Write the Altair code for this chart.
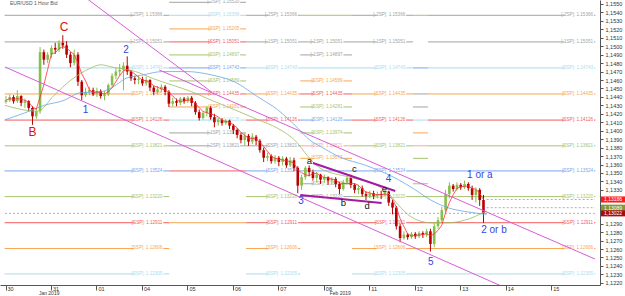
import altair as alt
import pandas as pd

# ---------------- candles (2-hour steps) ----------------
opens = [1.1434,1.1436,1.1440,1.1435,1.1441,1.1433,1.1435,1.1427,1.1417,1.1423,
1.1493,1.1484,1.1490,1.1498,1.1496,1.1504,1.1501,1.1490,1.1480,1.1490,
1.1458,1.1442,1.1446,1.1448,1.1443,1.1447,1.1441,1.1443,1.1454,1.1465,
1.1470,1.1472,1.1477,1.1470,1.1462,1.1460,1.1461,1.1456,1.1460,1.1451,
1.1446,1.1449,1.1452,1.1446,1.1432,1.1435,1.1433,1.1438,1.1435,1.1439,
1.1433,1.1422,1.1415,1.1421,1.1427,1.1416,1.1410,1.1413,1.1409,1.1412,
1.1406,1.1401,1.1395,1.1389,1.1394,1.1387,1.1393,1.1388,1.1377,1.1368,
1.1370,1.1364,1.1368,1.1363,1.1367,1.1359,1.1365,1.1356,1.1335,1.1345,
1.1356,1.1351,1.1344,1.1348,1.1342,1.1345,1.1341,1.1343,1.1337,1.1331,
1.1339,1.1344,1.1336,1.1330,1.1332,1.1325,1.1323,1.1326,1.1323,1.1325,
1.1324,1.1328,1.1315,1.1309,1.1287,1.1273,1.1277,1.1274,1.1278,1.1275,
1.1279,1.1277,1.1281,1.1266,1.1287,1.1294,1.1306,1.1325,1.1335,1.1331,
1.1336,1.1333,1.1337,1.1332,1.1324,1.1330,1.1318]
highs = [1.1441,1.1443,1.1442,1.1448,1.1442,1.1438,1.1436,1.1429,1.1427,1.1499,
1.1496,1.1493,1.1501,1.1504,1.1507,1.1513,1.1506,1.1493,1.1496,1.1493,
1.1460,1.1451,1.1452,1.1451,1.1451,1.1449,1.1447,1.1456,1.1468,1.1474,
1.1479,1.1481,1.1488,1.1472,1.1465,1.1465,1.1464,1.1464,1.1461,1.1453,
1.1453,1.1455,1.1454,1.1448,1.1439,1.1438,1.1440,1.1440,1.1441,1.1441,
1.1435,1.1425,1.1423,1.1429,1.1429,1.1420,1.1415,1.1415,1.1414,1.1413,
1.1408,1.1403,1.1397,1.1397,1.1396,1.1397,1.1395,1.1390,1.1380,1.1374,
1.1372,1.1371,1.1370,1.1370,1.1369,1.1369,1.1368,1.1358,1.1348,1.1358,
1.1359,1.1354,1.1351,1.1349,1.1348,1.1346,1.1345,1.1345,1.1339,1.1342,
1.1346,1.1348,1.1338,1.1336,1.1335,1.1328,1.1329,1.1329,1.1328,1.1329,
1.1330,1.1329,1.1318,1.1311,1.1290,1.1281,1.1279,1.1280,1.1280,1.1281,
1.1281,1.1284,1.1284,1.1292,1.1298,1.1310,1.1330,1.1339,1.1337,1.1339,
1.1338,1.1341,1.1339,1.1335,1.1333,1.1332,1.1324]
lows = [1.1432,1.1434,1.1432,1.1433,1.1429,1.1427,1.1423,1.1407,1.1414,1.1420,
1.1478,1.1480,1.1486,1.1491,1.1493,1.1497,1.1486,1.1475,1.1477,1.1453,
1.1436,1.1440,1.1442,1.1441,1.1440,1.1438,1.1436,1.1441,1.1452,1.1461,
1.1465,1.1448,1.1466,1.1459,1.1455,1.1455,1.1453,1.1453,1.1447,1.1442,
1.1443,1.1446,1.1442,1.1428,1.1429,1.1429,1.1430,1.1432,1.1433,1.1429,
1.1419,1.1412,1.1413,1.1417,1.1413,1.1404,1.1406,1.1406,1.1407,1.1402,
1.1396,1.1391,1.1385,1.1383,1.1382,1.1384,1.1383,1.1374,1.1363,1.1364,
1.1361,1.1361,1.1358,1.1359,1.1356,1.1357,1.1352,1.1326,1.1330,1.1342,
1.1346,1.1341,1.1339,1.1337,1.1338,1.1336,1.1337,1.1333,1.1325,1.1329,
1.1336,1.1332,1.1326,1.1325,1.1322,1.1318,1.1320,1.1319,1.1320,1.1319,
1.1322,1.1311,1.1301,1.1283,1.1268,1.1271,1.1271,1.1272,1.1272,1.1273,
1.1273,1.1274,1.1257,1.1262,1.1284,1.1291,1.1303,1.1320,1.1328,1.1329,
1.1330,1.1331,1.1329,1.1318,1.1315,1.1311,1.1291]
closes = [1.1436,1.1440,1.1435,1.1441,1.1433,1.1435,1.1427,1.1417,1.1423,1.1493,
1.1484,1.1490,1.1498,1.1496,1.1504,1.1501,1.1490,1.1480,1.1490,1.1458,
1.1442,1.1446,1.1448,1.1443,1.1447,1.1441,1.1443,1.1454,1.1465,1.1470,
1.1472,1.1477,1.1470,1.1462,1.1460,1.1461,1.1456,1.1460,1.1451,1.1446,
1.1449,1.1452,1.1446,1.1432,1.1435,1.1433,1.1438,1.1435,1.1439,1.1433,
1.1422,1.1415,1.1421,1.1427,1.1416,1.1410,1.1413,1.1409,1.1412,1.1406,
1.1401,1.1395,1.1389,1.1394,1.1387,1.1393,1.1388,1.1377,1.1368,1.1370,
1.1364,1.1368,1.1363,1.1367,1.1359,1.1365,1.1356,1.1335,1.1345,1.1356,
1.1351,1.1344,1.1348,1.1342,1.1345,1.1341,1.1343,1.1337,1.1331,1.1339,
1.1344,1.1336,1.1330,1.1332,1.1325,1.1323,1.1326,1.1323,1.1325,1.1324,
1.1328,1.1315,1.1309,1.1287,1.1273,1.1277,1.1274,1.1278,1.1275,1.1279,
1.1277,1.1281,1.1266,1.1287,1.1294,1.1306,1.1325,1.1335,1.1331,1.1336,
1.1333,1.1337,1.1332,1.1324,1.1330,1.1318,1.1302]

# ---------------- moving averages ----------------
green_t = [-0.01,0.70,1.07,1.44,1.87,2.09,2.37,2.86,3.23,3.67,4.10,4.53,5.03,5.55,5.98,
           6.41,6.63,6.91,7.56,8.14,8.42,8.64,8.92,9.35,9.72,10.09,10.58]
green_p = [1.1430,1.1423,1.1442,1.1460,1.1474,1.1478,1.1475,1.1470,1.1462,1.1454,1.1446,
           1.1436,1.1425,1.1413,1.1403,1.1386,1.1371,1.1356,1.1345,1.1336,1.1326,1.1312,
           1.1298,1.1291,1.1291,1.1294,1.1305]
blue_t = [-0.01,0.42,0.85,1.29,1.65,2.09,2.37,2.65,3.02,3.45,3.99,4.53,5.03,5.55,5.98,
          6.41,6.69,6.97,7.34,7.92,8.64,9.01,9.35,9.72,10.15,10.58]
blue_p = [1.1413,1.1421,1.1430,1.1436,1.1445,1.1446,1.1452,1.1462,1.1466,1.1470,1.1470,
          1.1466,1.1458,1.1440,1.1425,1.1404,1.1389,1.1380,1.1369,1.1359,1.1342,1.1330,
          1.1318,1.1309,1.1304,1.1301]

# ---------------- pivot levels ----------------
main_levels = [1.15366,1.15051,1.14743,1.14435,1.14126,1.13821,1.13524,1.13220,1.12911,1.12606,1.12305]
half_levels = [1.15520,1.15205,1.14897,1.14589,1.14281,1.13974,1.13673,1.13372,1.13065,1.12758,1.12456]
COLORS = {"gr": "#a3a3a3", "lb": "#a9dcef", "or": "#f7a654", "rd": "#f25c5c",
          "gn": "#a6c36f", "bl": "#7aa6ef", "pk": "#f4a6a6"}
# (start day, end day, label end day or None, [(level, colour, code or None)])
periods = [
    (-0.02, 3.60, 3.45, [("M1","gr","-2SP"),("M2","gr","-1SP"),("M3","lb","SSP"),("M4","or","SSP"),
                         ("M5","rd","SSP"),("M6","gn","SSP"),("M7","bl","SSP"),("M8","gn","SSP"),
                         ("M9","rd","SSP"),("M10","or","SSP"),("M11","lb","SSP")]),
    (3.60, 5.29, 5.14, [("H0","gr","-2SP"),("M1","lb","SSP"),("H1","or","SSP"),("M2","rd","SSP"),
                        ("H2","gn","SSP"),("M3","bl","SSP"),("H3","gn","SSP"),("M4","rd","SSP"),
                        ("H4","or","SSP"),("M5","lb","SSP"),("H5","gr","-1SP"),("M6","gr","-2SP"),
                        ("M7","rd",None),("M9","or",None)]),
    (5.29, 6.48, 6.41, [("M1","gr","-2SP"),("M2","gr","-1SP"),("M3","lb","SSP"),("M4","or","SSP"),
                        ("M5","rd","SSP"),("M6","gr","SSP"),("M7","bl","SSP"),("M8","gn","SSP"),
                        ("M9","rd","SSP"),("M10","or","SSP"),("M11","lb","SSP")]),
    (6.48, 7.62, 7.41, [("M1","gn",None),("M2","gr","-1SP"),("H2","gr","-1SP"),("M3","lb",None),
                        ("H3","or","SSP"),("M4","rd","SSP"),("H4","gn","SSP"),("M5","bl","SSP"),
                        ("H5","gn","SSP"),("M6","pk","SSP"),("H6","or","SSP"),("M7","bl",None),
                        ("H7","gr","SSP"),("M8","gr","SSP"),("M9","rd",None)]),
    (7.62, 8.96, 8.79, [("M1","gr","-2SP"),("M2","gr","-1SP"),("M3","lb","SSP"),("M4","or","SSP"),
                        ("M5","rd","SSP"),("M6","gn","SSP"),("M7","bl","SSP"),("M8","gn","SSP"),
                        ("M9","rd","SSP"),("M10","or","SSP"),("M11","lb","SSP")]),
    (8.96, 9.29, None, [("M1","gn",None),("M3","bl",None),("M4","gr",None),("H4","gr",None),
                        ("M5","lb",None),("H5","or",None),("M6","pk",None),("H6","gn",None),
                        ("M7","bl",None),("H7","gn",None),("M8","gn",None),("M9","rd",None),
                        ("M10","or",None),("M11","lb",None)]),
    (9.29, 12.97, 12.92, [("M1","gr","-2SP"),("M2","gr","-1SP"),("M3","lb","SSP"),("M4","or","SSP"),
                          ("M5","rd","SSP"),("M6","gn","SSP"),("M7","bl","SSP"),("M8","gn","SSP"),
                          ("M9","rd","SSP"),("M10","or","SSP"),("M11","lb","SSP")]),
]

# ---------------- trend lines ----------------
chan_id = ["up1","up1","up2","up2","low","low","ace","ace","bd","bd"]
chan_t = [1.75, 4.53, 3.38, 12.96, -0.01, 11.08, 6.76, 8.57, 6.48, 8.27]
chan_p = [1.15579, 1.14458, 1.14719, 1.12482, 1.14754, 1.12120, 1.13618, 1.13287, 1.13239, 1.13145]

# ---------------- annotations ----------------
ann_text = ["B","C","1","2","3","4","5","a","b","c","d","e","1 or a","2 or b"]
ann_t = [0.595,1.29,1.76,2.65,6.50,8.42,9.35,6.68,7.43,7.67,7.95,8.33,10.43,10.74]
ann_p = [1.13985,1.15228,1.14245,1.14955,1.13168,1.13423,1.12446,1.13640,1.13145,1.13547,
         1.13109,1.13305,1.13476,1.12825]
ann_kind = ["wave","wave","imp","imp","imp","imp","imp","abc","abc","abc","abc","abc","imp","imp"]

day_labels = ["30","31","01","04","05","06","07","08","11","12","13","14","15"]
tag_p = [1.13186, 1.13089, 1.13022]
tag_fill = ["#ff1a1a", "#7f9a2e", "#a50d0d"]
# axis labels hidden behind the price tags in the picture
hidden_ticks = [1.1300, 1.1310, 1.1320]

# ======================= build =======================
FONT = "Liberation Sans"
xs = alt.Scale(domain=[-0.011, 12.962], nice=False, zero=False)
ys = alt.Scale(domain=[1.12174, 1.15547], nice=False, zero=False)

yvals = [round(1.122 + i * 0.001, 4) for i in range(34)]
yvals = [v for v in yvals if v not in hidden_ticks]

xaxis = alt.Axis(values=list(range(13)),
                 labelExpr="['" + "','".join(day_labels) + "'][datum.value]",
                 labelAlign="left", labelOffset=1.5, labelPadding=-4, tickSize=5,
                 labelFontSize=5.5, labelFont=FONT, labelColor="#333", domainColor="#555",
                 tickColor="#555", grid=False, title=None, labelBaseline="top")
yaxis = alt.Axis(orient="right", values=yvals,
                 labelExpr="replace(format(datum.value,'.4f'),'.',',')",
                 tickSize=3, labelFontSize=5.5, labelFont=FONT, labelColor="#333",
                 labelPadding=2, domainColor="#555", tickColor="#555", grid=False, title=None)


def X(field):
    return alt.X(field, type="quantitative", scale=xs, axis=xaxis, title=None)


def Y(field):
    return alt.Y(field, type="quantitative", scale=ys, axis=yaxis, title=None)


cdf = pd.DataFrame({"open": opens, "high": highs, "low": lows, "close": closes})
cdf["t"] = [k / 12 + 0.01 for k in range(len(cdf))]
cdf["dir"] = ["up" if c >= o else "down" for o, c in zip(opens, closes)]

cscale = alt.Scale(domain=["up", "down"], range=["#86c04a", "#b80000"])
wick = alt.Chart(cdf).mark_rule(strokeWidth=1).encode(
    x=X("t"), y=Y("low"), y2="high",
    color=alt.Color("dir:N", scale=cscale, legend=None))
body = alt.Chart(cdf).mark_bar(size=2.6).encode(
    x=X("t"), y=Y("open"), y2="close",
    color=alt.Color("dir:N", scale=cscale, legend=None))
red_ma = alt.Chart(cdf).transform_window(ma="mean(close)", frame=[-3, 0]).mark_line(
    color="#ff3030", strokeWidth=0.8).encode(x=X("t"), y=Y("ma"))

gdf = pd.DataFrame({"t": green_t, "p": green_p})
bdf = pd.DataFrame({"t": blue_t, "p": blue_p})
green_ma = alt.Chart(gdf).mark_line(color="#9dbb5e", strokeWidth=0.8, interpolate="monotone").encode(
    x=X("t"), y=Y("p"))
blue_ma = alt.Chart(bdf).mark_line(color="#6aa6e8", strokeWidth=0.8, interpolate="monotone").encode(
    x=X("t"), y=Y("p"))

# levels
rows = []
for (t0, t1, tl, items) in periods:
    for key, ck, code in items:
        p = main_levels[int(key[1:]) - 1] if key[0] == "M" else half_levels[int(key[1:])]
        rows.append({"t0": t0, "t1": t1, "p": p, "col": COLORS[ck],
                     "tl": tl, "lab": (f"[{code}]: {p:.5f}" if (code and tl) else None)})
ldf = pd.DataFrame(rows)
lab_df = ldf[ldf["lab"].notna()].copy()
lab_df["bx0"] = lab_df["tl"] - 0.63
lab_df["bx1"] = lab_df["tl"] + 0.02
lab_df["py0"] = lab_df["p"] - 0.00033
lab_df["py1"] = lab_df["p"] + 0.00033

lvl_rules = alt.Chart(ldf).mark_rule(strokeWidth=1).encode(
    x=X("t0"), x2="t1", y=Y("p"), color=alt.Color("col:N", scale=None))
lvl_bg = alt.Chart(lab_df).mark_rect(color="white").encode(
    x=X("bx0"), x2="bx1", y=Y("py0"), y2="py1")
lvl_txt = alt.Chart(lab_df).mark_text(align="right", baseline="middle", fontSize=4.6, font=FONT).encode(
    x=X("tl"), y=Y("p"), text="lab:N", color=alt.Color("col:N", scale=None))

# dashed price lines
ddf = pd.DataFrame({"t0": [-0.01, 10.58, 10.58], "t1": [12.96, 12.96, 12.96], "p": tag_p[::-1]})
dashed = alt.Chart(ddf).mark_rule(strokeWidth=0.8, strokeDash=[2, 2], color="#9a9a9a").encode(
    x=X("t0"), x2="t1", y=Y("p"))

# trend lines, one layer each
chdf = pd.DataFrame({"id": chan_id, "t": chan_t, "p": chan_p})
trend_layers = []
for lid in ["up1", "up2", "low"]:
    trend_layers.append(alt.Chart(chdf[chdf["id"] == lid]).mark_line(
        color="#d95bd9", strokeWidth=1, clip=True).encode(x=X("t"), y=Y("p")))
for lid in ["ace", "bd"]:
    trend_layers.append(alt.Chart(chdf[chdf["id"] == lid]).mark_line(
        color="#a41aa4", strokeWidth=2).encode(x=X("t"), y=Y("p")))

# annotations
adf = pd.DataFrame({"t": ann_t, "p": ann_p, "txt": ann_text, "kind": ann_kind})
ann_layers = []
for kind, color, size in [("wave", "#e01010", 12), ("imp", "#3344dd", 10), ("abc", "#111111", 9.5)]:
    ann_layers.append(alt.Chart(adf[adf["kind"] == kind]).mark_text(
        fontSize=size, font=FONT, color=color, baseline="middle", align="center").encode(
        x=X("t"), y=Y("p"), text="txt:N"))

# title and month labels
title = alt.Chart(pd.DataFrame({"s": ["EUR/USD  1 Hour Bid"]})).mark_text(
    align="left", baseline="top", fontSize=5, font=FONT, color="#555").encode(
    x=alt.value(10), y=alt.value(1), text="s:N")
mdf = pd.DataFrame({"t": [0.96, 7.36], "s": ["Jan 2019", "Feb 2019"]})
months = alt.Chart(mdf).mark_text(baseline="middle", fontSize=5, font=FONT, color="#333").encode(
    x=X("t"), y=alt.value(293), text="s:N")

# right price tags
tdf = pd.DataFrame({"p": tag_p, "fill": tag_fill,
                    "lab": [f"{v:.5f}".replace(".", ",") for v in tag_p]})
tdf["p0"] = tdf["p"] - 0.00036
tdf["p1"] = tdf["p"] + 0.00036
tag_rect = alt.Chart(tdf).mark_rect().encode(
    x=alt.value(601), x2=alt.value(625),
    y=Y("p0"), y2="p1", color=alt.Color("fill:N", scale=None))
tag_txt = alt.Chart(tdf).mark_text(align="left", baseline="middle", fontSize=5, font=FONT,
                                    color="white").encode(
    x=alt.value(604), y=Y("p"), text="lab:N")

chart = alt.layer(
    lvl_rules, lvl_bg, lvl_txt, dashed, wick, body, green_ma, blue_ma, red_ma,
    *trend_layers, *ann_layers, title, months, tag_rect, tag_txt
).properties(
    width=600, height=285,
    autosize=alt.AutoSizeParams(type="none"),
    padding={"left": 0, "top": 0, "right": 25, "bottom": 11},
    background="white"
).configure_view(stroke=None)

chart.save("out.html", embed_options={"renderer": "svg", "actions": False})
